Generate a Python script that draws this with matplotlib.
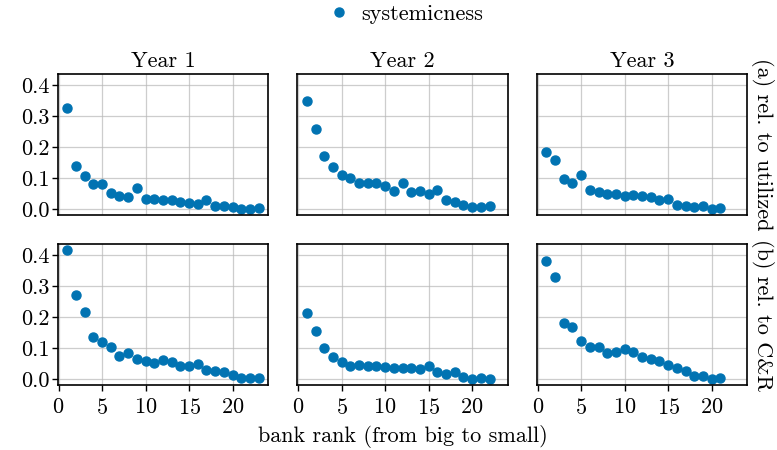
import matplotlib

matplotlib.use("Agg")
import matplotlib.pyplot as plt

YEARS = ("Year 1", "Year 2", "Year 3")
ROWS = ("(a) rel. to utilized", "(b) rel. to C&R")

# (a) relative to utilized
util_y1 = [0.325, 0.138, 0.108, 0.081, 0.082, 0.051, 0.042, 0.038, 0.067, 0.033,
           0.034, 0.029, 0.028, 0.024, 0.020, 0.018, 0.029, 0.011, 0.011, 0.006,
           0.002, 0.002, 0.003]
util_y2 = [0.349, 0.259, 0.172, 0.135, 0.109, 0.102, 0.084, 0.085, 0.085, 0.075,
           0.059, 0.084, 0.056, 0.058, 0.049, 0.061, 0.030, 0.023, 0.013, 0.008,
           0.006, 0.010]
util_y3 = [0.185, 0.160, 0.098, 0.085, 0.109, 0.062, 0.054, 0.048, 0.048, 0.042,
           0.045, 0.041, 0.040, 0.030, 0.033, 0.015, 0.009, 0.008, 0.009, 0.002,
           0.005]

# (b) relative to C&R
cr_y1 = [0.415, 0.270, 0.216, 0.135, 0.120, 0.105, 0.074, 0.084, 0.066, 0.058,
         0.052, 0.061, 0.054, 0.042, 0.043, 0.049, 0.030, 0.028, 0.024, 0.013,
         0.005, 0.005, 0.003]
cr_y2 = [0.213, 0.155, 0.101, 0.073, 0.055, 0.042, 0.045, 0.042, 0.043, 0.040,
         0.036, 0.036, 0.037, 0.033, 0.042, 0.023, 0.017, 0.023, 0.006, 0.002,
         0.004, 0.002]
cr_y3 = [0.380, 0.329, 0.181, 0.169, 0.124, 0.103, 0.103, 0.085, 0.089, 0.098,
         0.087, 0.072, 0.066, 0.058, 0.046, 0.035, 0.026, 0.010, 0.010, 0.002,
         0.004]

DATA = [[util_y1, util_y2, util_y3], [cr_y1, cr_y2, cr_y3]]

FS = 16
plt.rcParams.update({
    "font.family": "serif",
    "font.serif": ["cmr10"],
    "mathtext.fontset": "cm",
    "axes.formatter.use_mathtext": True,
    "font.size": FS,
    "axes.unicode_minus": False,
})

COLOR = "#0173b2"


def main():
    fig, axes = plt.subplots(2, 3, figsize=(7.77, 4.5), dpi=100,
                             sharex=True, sharey=True)
    fig.subplots_adjust(left=0.0743, right=0.9618, top=0.8356, bottom=0.1444,
                        wspace=0.138, hspace=0.206)

    for r, row in enumerate(DATA):
        for c, vals in enumerate(row):
            ax = axes[r, c]
            ranks = list(range(1, len(vals) + 1))
            ax.plot(ranks, vals, "o", color=COLOR, markersize=6.5,
                    label="systemicness" if (r, c) == (0, 0) else None)
            ax.grid(color="#b8b8b8", linewidth=0.9, alpha=0.7)
            ax.set_axisbelow(True)
            ax.tick_params(direction="out", length=4, width=1, labelsize=FS,
                           pad=2)
            ax.tick_params(axis="x", pad=5)
            for s in ax.spines.values():
                s.set_linewidth(1.2)
            if r == 0:
                ax.set_title(YEARS[c], fontsize=FS, pad=5)
                ax.tick_params(axis="x", length=0)
            if c > 0:
                ax.tick_params(axis="y", length=0)
            if c == 2:
                ax.annotate(ROWS[r], xy=(1.0, 0.5), xycoords="axes fraction",
                            xytext=(11, 0), textcoords="offset points",
                            rotation=270, ha="center", va="center", fontsize=FS)

    axes[0, 0].set_xticks([0, 5, 10, 15, 20])
    axes[0, 0].set_yticks([0.0, 0.1, 0.2, 0.3, 0.4])
    axes[0, 0].yaxis.set_major_formatter(
        matplotlib.ticker.FormatStrFormatter("%.1f"))

    fig.text(402.5 / 777, 1 - 436 / 450, "bank rank (from big to small)",
             ha="center", va="center", fontsize=FS)
    fig.legend(loc="upper center", bbox_to_anchor=(0.52, 1.035), frameon=False,
               fontsize=FS, handlelength=1.2, handletextpad=0.4)

    fig.savefig("out.png", dpi=100)


if __name__ == "__main__":
    main()
